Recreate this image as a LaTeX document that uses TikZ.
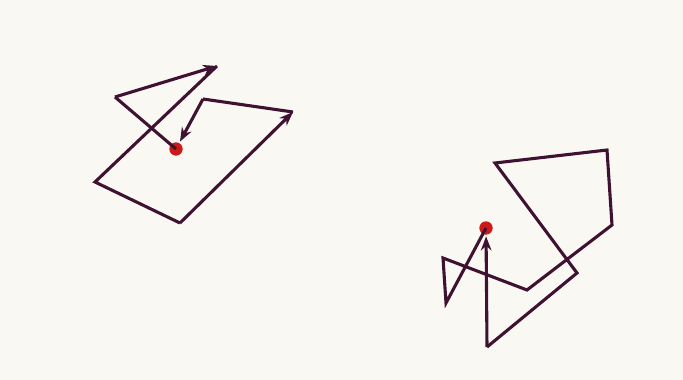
\documentclass[tikz,border=0pt]{standalone}
\usepackage{tikz}
\usepackage{xcolor}
\usetikzlibrary{arrows.meta}

\definecolor{walkline}{HTML}{401232}
\definecolor{walkdot}{HTML}{CC1A1A}
\definecolor{paper}{HTML}{FAF8F2}

\begin{document}
\begin{tikzpicture}[
    x=0.025cm, y=-0.025cm,
    walk/.style={draw=walkline, line width=2.2pt, line join=miter},
    arrow/.style={walk, -{Stealth[length=10pt,width=7.5pt]}},
    start/.style={circle, fill=walkdot, inner sep=0pt, minimum size=9.5pt}
  ]
    \fill[paper] (0,0) rectangle (683,380);
    \useasboundingbox (0,0) rectangle (683,380);

    % left walk
    \coordinate (a1) at (115,97);
    \coordinate (a2) at (217,66);
    \coordinate (a3) at (95,182);
    \coordinate (a4) at (180,223);
    \coordinate (a5) at (293,112);
    \coordinate (a6) at (203,99);
    \node[start] (origA) at (176,149) {};

    \draw[walk] (origA.center) -- (a1);
    \draw[arrow] (a1) -- (a2);
    \draw[walk] (a2) -- (a3) -- (a4);
    \draw[arrow] (a4) -- (a5);
    \draw[walk] (a5) -- (a6);
    \draw[arrow, shorten >=1pt] (a6) -- (origA);

    % right walk
    \coordinate (b1) at (446,303);
    \coordinate (b2) at (443,258);
    \coordinate (b3) at (527,290);
    \coordinate (b4) at (612,225);
    \coordinate (b5) at (607,150);
    \coordinate (b6) at (495,163);
    \coordinate (b7) at (577,273);
    \coordinate (b8) at (487,347);
    \node[start] (origB) at (486,228) {};

    \draw[walk] (origB.center) -- (b1) -- (b2) -- (b3) -- (b4) -- (b5) -- (b6) -- (b7) -- (b8);
    \draw[arrow, shorten >=1pt] (b8) -- (origB);
  \end{tikzpicture}
\end{document}
